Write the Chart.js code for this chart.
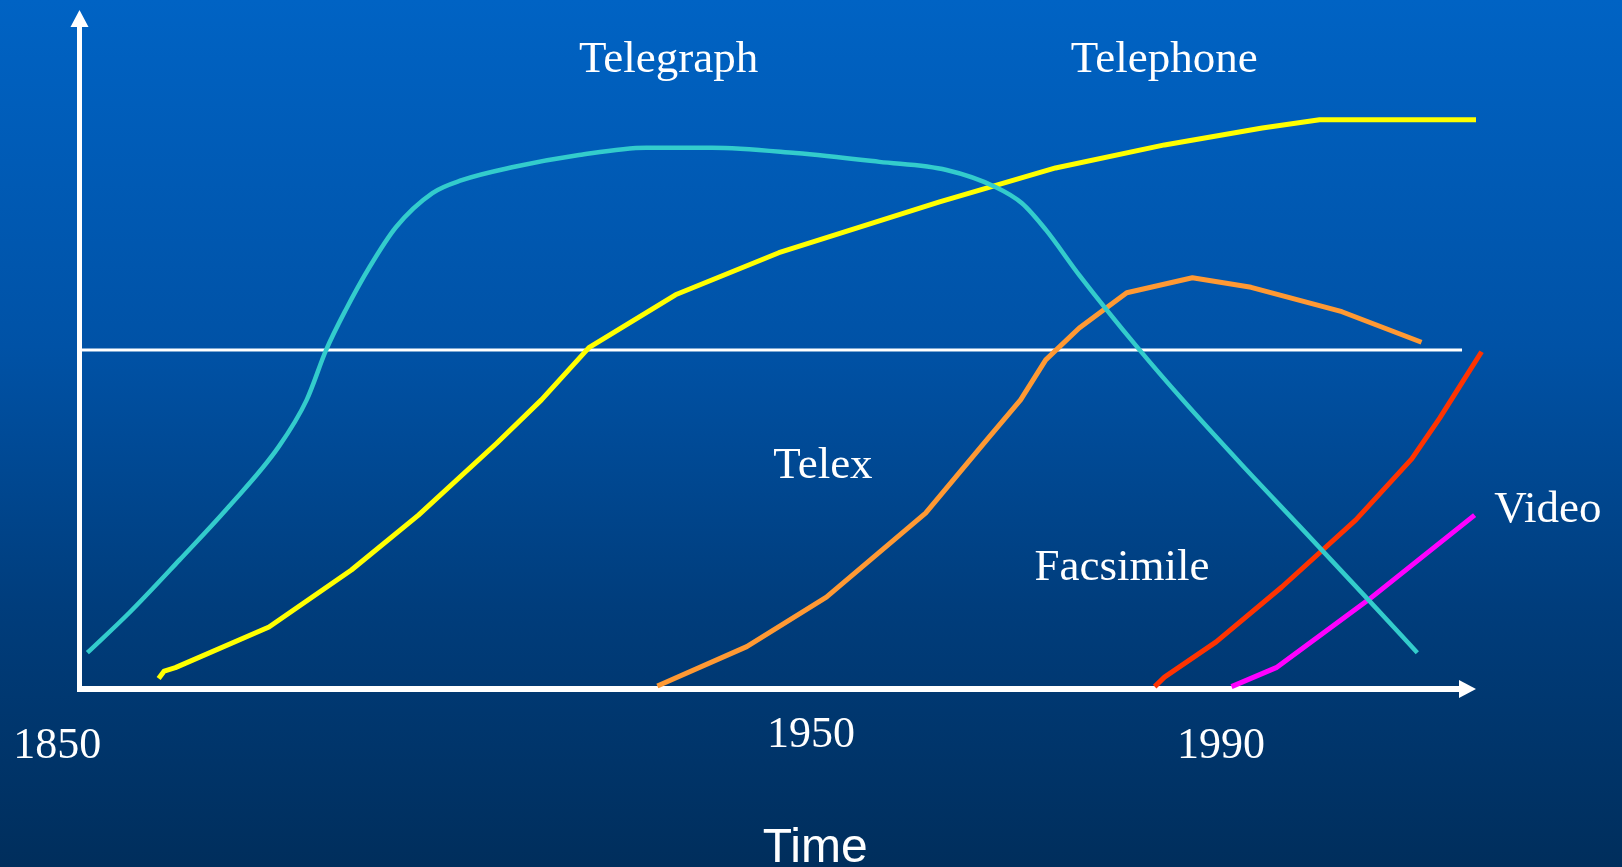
<!DOCTYPE html>
<html>
<head>
<meta charset="utf-8">
<script src="https://cdn.jsdelivr.net/npm/chart.js@4/dist/chart.umd.min.js"></script>
<style>
  html, body { margin: 0; padding: 0; width: 1622px; height: 867px; overflow: hidden; }
  body { background: linear-gradient(to bottom, #0063c4 0%, #0052a6 40%, #003d7c 70%, #002e5c 100%); }
  #wrap { position: absolute; left: 0; top: 0; width: 1622px; height: 867px; }
</style>
</head>
<body>
<div id="wrap"><canvas id="c" width="1622" height="867"></canvas></div>
<script>
// ---- Data (relative time 0..100 on x, relative usage 0..100 on y) ----
const seriesNames = ['Telegraph', 'Telephone', 'Telex', 'Facsimile', 'Video'];

const telegraphX = [0.6, 3.6, 7.2, 10.7, 14.3, 16.3, 17.7, 19.1, 20.8, 22.7, 25.3, 27.4, 31.0, 35.8, 40.6, 45.3, 51.3, 57.3, 62.1, 65.6, 67.5, 69.2, 71.6, 75.9, 79.0, 83.2, 87.4, 92.3, 95.8];
const telegraphY = [5.2, 11.1, 18.9, 26.7, 35.6, 42.5, 49.9, 55.8, 62.1, 68.0, 73.0, 74.9, 76.8, 78.6, 79.7, 79.7, 78.9, 77.6, 76.4, 73.9, 71.5, 67.6, 60.9, 49.9, 42.5, 33.0, 23.8, 13.0, 5.2];

const telephoneX = [5.7, 6.1, 6.9, 13.6, 19.5, 24.3, 29.9, 33.1, 36.5, 42.7, 50.1, 61.6, 69.9, 77.7, 84.7, 88.8, 100.0];
const telephoneY = [1.4, 2.5, 3.0, 9.0, 17.4, 25.5, 36.1, 42.5, 50.2, 58.0, 64.2, 71.7, 76.7, 80.1, 82.6, 83.8, 83.8];

const telexX = [41.4, 47.8, 53.5, 60.6, 65.1, 67.4, 69.2, 71.6, 75.0, 79.7, 83.9, 90.4, 96.1];
const telexY = [0.3, 6.1, 13.4, 25.8, 36.9, 42.5, 48.4, 53.1, 58.3, 60.5, 59.1, 55.5, 51.0];

const facsimileX = [77.0, 77.7, 81.4, 86.1, 91.4, 95.4, 97.4, 98.9, 100.4];
const facsimileY = [0.2, 1.6, 6.8, 14.9, 24.8, 33.8, 39.8, 44.7, 49.6];

const videoX = [82.5, 85.7, 92.3, 99.9];
const videoY = [0.2, 3.0, 13.0, 25.5];

const midLine = 49.85;                 // horizontal reference line
const tickLabels = ['1850', '1950', '1990'];
const tickValues = [-4.7, 49.25, 78.6];
const axisTitle = 'Time';

// ---- helpers ----
function pts(xs, ys) { return xs.map((x, i) => ({ x: x, y: ys[i] })); }

const colors = ['#33CCCC', '#FFFF00', '#FF9933', '#FF3300', '#FF00FF'];
const series = [
  pts(telegraphX, telegraphY),
  pts(telephoneX, telephoneY),
  pts(telexX, telexY),
  pts(facsimileX, facsimileY),
  pts(videoX, videoY)
];

const datasets = series.map((d, i) => ({
  label: seriesNames[i],
  data: d,
  borderColor: colors[i],
  borderWidth: i === 0 ? 4.5 : 5,
  pointRadius: 0,
  tension: i === 0 ? 0.4 : 0,
  cubicInterpolationMode: i === 0 ? 'monotone' : 'default',
  borderJoinStyle: 'round',
  fill: false,
  clip: false
}));

// ---- plugins ----
const axesPlugin = {
  id: 'axesPlugin',
  beforeDatasetsDraw(chart) {
    const ctx = chart.ctx;
    const xs = chart.scales.x, ys = chart.scales.y;
    const x0 = xs.getPixelForValue(0), xEnd = xs.getPixelForValue(100);
    const y0 = ys.getPixelForValue(0), yEnd = ys.getPixelForValue(100);
    ctx.save();
    ctx.strokeStyle = '#ffffff';
    ctx.fillStyle = '#ffffff';
    // mid reference line
    const ym = ys.getPixelForValue(midLine);
    ctx.lineWidth = 3;
    ctx.beginPath();
    ctx.moveTo(x0, ym);
    ctx.lineTo(xs.getPixelForValue(99.0), ym);
    ctx.stroke();
    // y axis
    ctx.lineWidth = 5;
    ctx.beginPath();
    ctx.moveTo(x0 + 0.5, y0 + 3);
    ctx.lineTo(x0 + 0.5, yEnd + 16);
    ctx.stroke();
    ctx.beginPath();
    ctx.moveTo(x0 + 0.5, yEnd);
    ctx.lineTo(x0 + 0.5 - 9, yEnd + 17);
    ctx.lineTo(x0 + 0.5 + 9, yEnd + 17);
    ctx.closePath();
    ctx.fill();
    // x axis
    ctx.lineWidth = 6;
    ctx.beginPath();
    ctx.moveTo(x0 - 2, y0 + 1);
    ctx.lineTo(xEnd - 16, y0 + 1);
    ctx.stroke();
    ctx.beginPath();
    ctx.moveTo(xEnd, y0 + 1);
    ctx.lineTo(xEnd - 17, y0 + 1 - 9);
    ctx.lineTo(xEnd - 17, y0 + 1 + 9);
    ctx.closePath();
    ctx.fill();
    ctx.restore();
  },
  afterDraw(chart) {
    const ctx = chart.ctx;
    const xs = chart.scales.x, ys = chart.scales.y;
    ctx.save();
    ctx.fillStyle = '#ffffff';
    ctx.textBaseline = 'alphabetic';
    // series labels (left x, baseline y in data units)
    const anchors = [[35.79, 90.86], [71.0, 90.86], [49.7, 30.97], [68.4, 15.93], [101.3, 24.48]];
    ctx.font = '45px "Liberation Serif", "DejaVu Serif", serif';
    ctx.textAlign = 'left';
    seriesNames.forEach((n, i) => {
      ctx.fillText(n, xs.getPixelForValue(anchors[i][0]), ys.getPixelForValue(anchors[i][1]));
    });
    // tick labels
    const tickY = [-10.32, -8.7, -10.32];
    ctx.font = '44px "Liberation Serif", "DejaVu Serif", serif';
    tickLabels.forEach((t, i) => {
      ctx.fillText(t, xs.getPixelForValue(tickValues[i]), ys.getPixelForValue(tickY[i]));
    });
    // axis title
    ctx.textAlign = 'center';
    ctx.font = '48px "Liberation Sans", Arial, sans-serif';
    ctx.fillText(axisTitle, xs.getPixelForValue(52.7), ys.getPixelForValue(-25.66));
    ctx.restore();
  }
};

new Chart(document.getElementById('c'), {
  type: 'line',
  data: { datasets: datasets },
  options: {
    responsive: false,
    animation: false,
    layout: { padding: { left: 79, right: 146, top: 10, bottom: 179 } },
    scales: {
      x: { type: 'linear', min: 0, max: 100, display: false },
      y: { type: 'linear', min: 0, max: 100, display: false }
    },
    plugins: { legend: { display: false }, tooltip: { enabled: false } }
  },
  plugins: [axesPlugin]
});
</script>
</body>
</html>
